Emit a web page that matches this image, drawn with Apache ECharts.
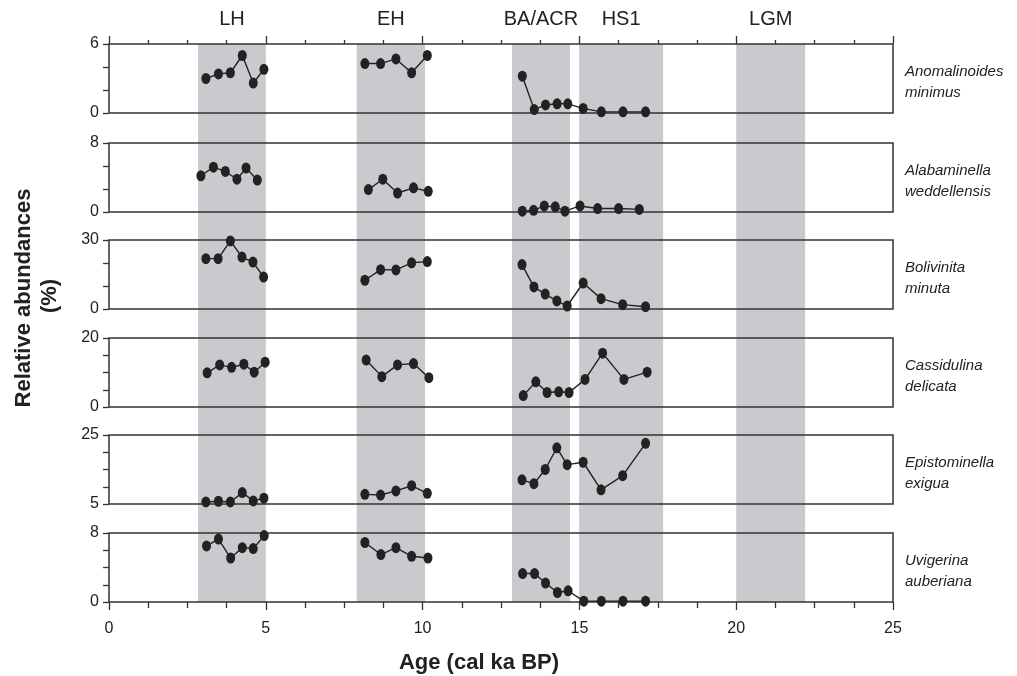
<!DOCTYPE html>
<html>
<head>
<meta charset="utf-8">
<script src="https://cdn.jsdelivr.net/npm/echarts@6/dist/echarts.min.js"></script>
<style>
  html, body { margin: 0; padding: 0; background: #fff; }
  #chart { width: 1017px; height: 676px; }
</style>
</head>
<body>
<div id="chart"></div>
<script>
const FONT = '"Liberation Sans", Arial, sans-serif'
const INK = '#222'
const LINE = '#333'
const BAND = '#c9cacd'

// climate intervals, cal ka BP
const bandNames = ['LH', 'EH', 'BA/ACR', 'HS1', 'LGM']
const bandStart = [2.84, 7.9, 12.85, 14.99, 20.0]
const bandEnd = [5.0, 10.08, 14.7, 17.67, 22.2]

// species panels (top to bottom)
const speciesNames = [
  'Anomalinoides\nminimus',
  'Alabaminella\nweddellensis',
  'Bolivinita\nminuta',
  'Cassidulina\ndelicata',
  'Epistominella\nexigua',
  'Uvigerina\nauberiana'
]
const yMin = [0, 0, 0, 0, 5, 0]
const yMax = [6, 8, 30, 20, 25, 8]
const yStep = [2, 8 / 3, 10, 5, 5, 2]

// null splits the LH / EH / BA-HS1 sample groups
const anomAge = [3.09, 3.49, 3.87, 4.25, 4.60, 4.94, null, 8.16, 8.66, 9.15, 9.65, 10.15, null, 13.18, 13.56, 13.92, 14.29, 14.63, 15.12, 15.70, 16.39, 17.11]
const anomVal = [3.0, 3.4, 3.5, 5.0, 2.6, 3.8, null, 4.3, 4.3, 4.7, 3.5, 5.0, null, 3.2, 0.3, 0.7, 0.8, 0.8, 0.4, 0.1, 0.1, 0.1]

const alabAge = [2.93, 3.33, 3.71, 4.08, 4.37, 4.73, null, 8.27, 8.73, 9.20, 9.71, 10.18, null, 13.18, 13.54, 13.88, 14.23, 14.54, 15.02, 15.58, 16.25, 16.91]
const alabVal = [4.2, 5.2, 4.7, 3.8, 5.1, 3.7, null, 2.6, 3.8, 2.2, 2.8, 2.4, null, 0.1, 0.2, 0.7, 0.6, 0.1, 0.7, 0.4, 0.4, 0.3]

const boliAge = [3.09, 3.48, 3.87, 4.24, 4.59, 4.93, null, 8.16, 8.66, 9.15, 9.65, 10.15, null, 13.17, 13.55, 13.91, 14.28, 14.61, 15.12, 15.69, 16.38, 17.11]
const boliVal = [21.9, 21.9, 29.6, 22.6, 20.4, 13.9, null, 12.5, 17.1, 17.0, 20.1, 20.6, null, 19.3, 9.6, 6.5, 3.5, 1.3, 11.3, 4.5, 1.9, 1.0]

const cassAge = [3.13, 3.53, 3.91, 4.30, 4.63, 4.98, null, 8.20, 8.70, 9.20, 9.71, 10.20, null, 13.21, 13.61, 13.97, 14.34, 14.67, 15.18, 15.74, 16.42, 17.16]
const cassVal = [9.9, 12.2, 11.5, 12.4, 10.1, 13.0, null, 13.6, 8.8, 12.2, 12.6, 8.5, null, 3.3, 7.3, 4.2, 4.4, 4.2, 8.0, 15.6, 8.0, 10.1]

const epiAge = [3.09, 3.49, 3.87, 4.25, 4.60, 4.94, null, 8.16, 8.66, 9.15, 9.65, 10.15, null, 13.17, 13.55, 13.91, 14.28, 14.61, 15.12, 15.69, 16.38, 17.11]
const epiVal = [5.6, 5.8, 5.6, 8.3, 5.9, 6.7, null, 7.8, 7.6, 8.8, 10.3, 8.1, null, 12.0, 10.9, 15.0, 21.3, 16.4, 17.1, 9.1, 13.2, 22.6]

const uviAge = [3.11, 3.49, 3.88, 4.25, 4.60, 4.95, null, 8.16, 8.67, 9.15, 9.65, 10.17, null, 13.19, 13.57, 13.92, 14.30, 14.64, 15.14, 15.70, 16.39, 17.11]
const uviVal = [6.5, 7.3, 5.1, 6.3, 6.2, 7.7, null, 6.9, 5.5, 6.3, 5.3, 5.1, null, 3.3, 3.3, 2.2, 1.1, 1.3, 0.1, 0.1, 0.1, 0.1]

const panelAges = [anomAge, alabAge, boliAge, cassAge, epiAge, uviAge]
const panelVals = [anomVal, alabVal, boliVal, cassVal, epiVal, uviVal]

// layout
const LEFT = 109
const WIDTH = 784
const panelTop = [44, 143, 240, 338, 435, 533]
const PANEL_H = 69

function segments(ages, vals) {
  const out = [[]]
  ages.forEach((a, i) => {
    if (a === null) out.push([])
    else out[out.length - 1].push([a, vals[i]])
  })
  return out
}

const grids = panelTop.map(t => ({
  left: LEFT, width: WIDTH, top: t, height: PANEL_H,
  show: true, borderColor: LINE, borderWidth: 1.5, backgroundColor: 'transparent', z: 5
}))
grids.push({ left: LEFT, width: WIDTH, top: panelTop[0], height: panelTop[5] + PANEL_H - panelTop[0] })

const tickStyle = { color: LINE, width: 1.3 }

const xAxes = panelTop.map((t, i) => ({
  gridIndex: i, type: 'value', min: 0, max: 25, interval: 5, position: 'bottom', z: 6,
  axisLine: { show: false },
  axisTick: { show: i === 5, length: 8, lineStyle: tickStyle },
  minorTick: { show: i === 5, splitNumber: 4, length: 6, lineStyle: tickStyle },
  axisLabel: { show: i === 5, color: INK, fontSize: 16, fontFamily: FONT, margin: 19 },
  splitLine: { show: false }
}))
// ticks on the top of the first panel
xAxes.push({
  gridIndex: 0, type: 'value', min: 0, max: 25, interval: 5, position: 'top', z: 6,
  axisLine: { show: false },
  axisTick: { show: true, length: 8, lineStyle: tickStyle },
  minorTick: { show: true, splitNumber: 4, length: 4, lineStyle: tickStyle },
  axisLabel: { show: false },
  splitLine: { show: false }
})
xAxes.push({ gridIndex: 6, type: 'value', min: 0, max: 25, show: false })

const yAxes = panelTop.map((t, i) => ({
  gridIndex: i, type: 'value', min: yMin[i], max: yMax[i], interval: yStep[i], z: 6,
  axisLine: { show: false },
  axisTick: { show: true, length: 6, lineStyle: tickStyle },
  axisLabel: {
    color: INK, fontSize: 16, fontFamily: FONT, margin: 10,
    formatter: v => (Math.abs(v - yMin[i]) < 1e-6 || Math.abs(v - yMax[i]) < 1e-6) ? String(Math.round(v)) : ''
  },
  splitLine: { show: false }
}))
yAxes.push({ gridIndex: 6, type: 'value', min: 0, max: 1, show: false })

const series = []
series.push({
  type: 'custom',
  xAxisIndex: 7,
  yAxisIndex: 6,
  z: 1,
  silent: true,
  data: bandStart.map((s, i) => [s, bandEnd[i]]),
  renderItem: (params, api) => {
    const p0 = api.coord([api.value(0), 1])
    const p1 = api.coord([api.value(1), 0])
    return {
      type: 'group',
      children: [
        {
          type: 'rect',
          shape: { x: p0[0], y: p0[1], width: p1[0] - p0[0], height: p1[1] - p0[1] },
          style: { fill: BAND }
        },
        {
          type: 'text',
          style: {
            text: bandNames[params.dataIndex],
            x: (p0[0] + p1[0]) / 2, y: p0[1] - 25,
            align: 'center', verticalAlign: 'middle',
            font: '20px ' + FONT, fill: INK
          }
        }
      ]
    }
  }
})

panelAges.forEach((ages, i) => {
  segments(ages, panelVals[i]).forEach(seg => {
    series.push({
      type: 'line',
      xAxisIndex: i,
      yAxisIndex: i,
      z: 7,
      silent: true,
      data: seg,
      symbol: 'circle',
      symbolSize: [9, 11],
      itemStyle: { color: INK },
      lineStyle: { color: INK, width: 1.4 },
      clip: false,
      animation: false
    })
  })
})

const graphics = [
  {
    type: 'text', x: 24, y: 298, rotation: Math.PI / 2,
    style: { text: 'Relative abundances', font: 'bold 22px ' + FONT, fill: INK, align: 'center', verticalAlign: 'middle' }
  },
  {
    type: 'text', x: 50, y: 296, rotation: Math.PI / 2,
    style: { text: '(%)', font: 'bold 22px ' + FONT, fill: INK, align: 'center', verticalAlign: 'middle' }
  },
  {
    type: 'text', x: 479, y: 663,
    style: { text: 'Age (cal ka BP)', font: 'bold 22px ' + FONT, fill: INK, align: 'center', verticalAlign: 'middle' }
  }
]
speciesNames.forEach((name, i) => {
  graphics.push({
    type: 'text', x: 905, y: panelTop[i] + PANEL_H / 2 + 4,
    style: { text: name, font: 'italic 15px ' + FONT, fill: INK, lineHeight: 21, align: 'left', verticalAlign: 'middle' }
  })
})

const chart = echarts.init(document.getElementById('chart'))
chart.setOption({
  backgroundColor: '#fff',
  animation: false,
  grid: grids,
  xAxis: xAxes,
  yAxis: yAxes,
  series: series,
  graphic: graphics
})
</script>
</body>
</html>
